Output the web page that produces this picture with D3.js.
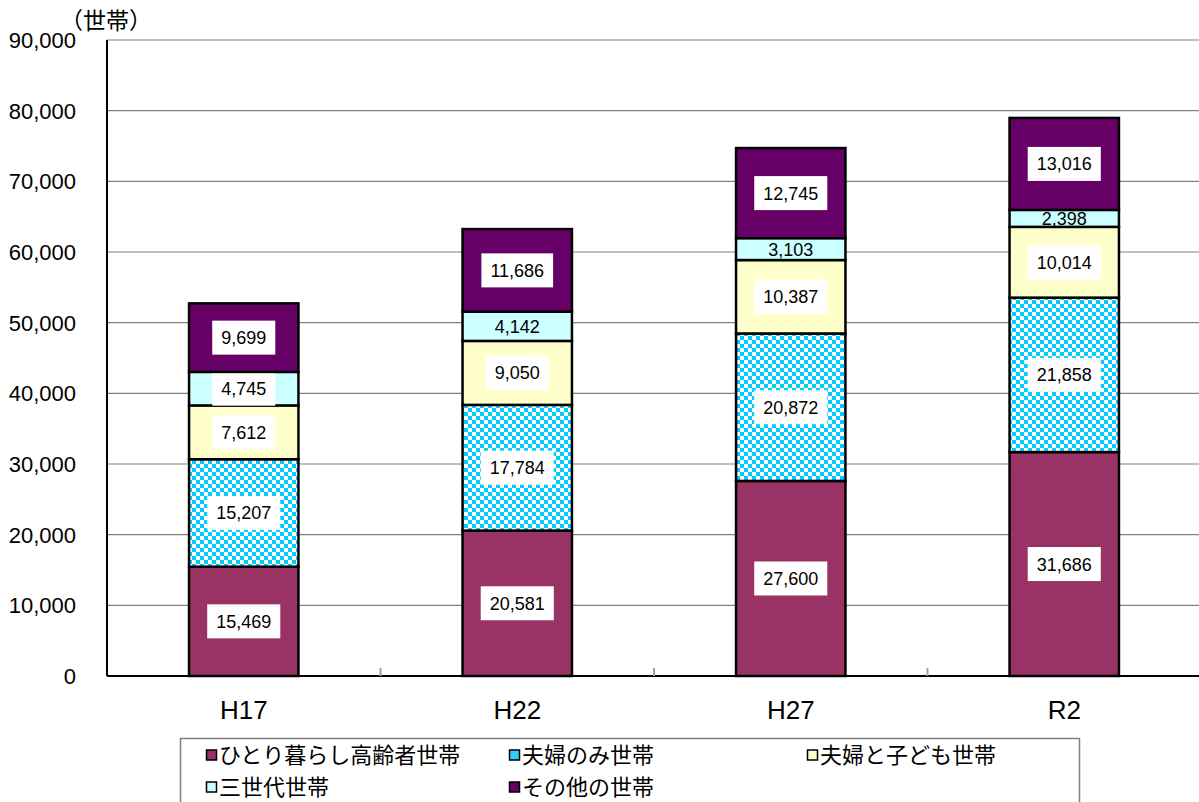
<!DOCTYPE html>
<html>
<head>
<meta charset="utf-8">
<script src="https://cdn.jsdelivr.net/npm/d3@7"></script>
<style>
  body { margin: 0; background: #fff; }
  text { font-family: "Liberation Sans", Arial, "Noto Sans CJK JP", sans-serif; }
</style>
</head>
<body>
<div id="chart"></div>
<script>
// 年次
var years = ["H17", "H22", "H27", "R2"];

// 世帯類型ごとの値
var hitori = [15469, 20581, 27600, 31686];
var fufuOnly = [15207, 17784, 20872, 21858];
var fufuKodomo = [7612, 9050, 10387, 10014];
var sansedai = [4745, 4142, 3103, 2398];
var sonota = [9699, 11686, 12745, 13016];

var seriesNames = ["ひとり暮らし高齢者世帯", "夫婦のみ世帯", "夫婦と子ども世帯", "三世代世帯", "その他の世帯"];
var seriesKeys = ["hitori", "fufuOnly", "fufuKodomo", "sansedai", "sonota"];
var yTicks = [0, 10000, 20000, 30000, 40000, 50000, 60000, 70000, 80000, 90000];

var width = 1199, height = 802;
var margin = { left: 107, right: -2, top: 40, bottom: 126 };

var svg = d3.select("#chart").append("svg")
    .attr("width", width)
    .attr("height", height);

// checker pattern for 夫婦のみ世帯
var defs = svg.append("defs");
var pat = defs.append("pattern")
    .attr("id", "checker")
    .attr("patternUnits", "userSpaceOnUse")
    .attr("width", 8).attr("height", 8);
pat.append("rect").attr("width", 8).attr("height", 8).attr("fill", "#00ccff");
pat.append("rect").attr("x", 0).attr("y", 0).attr("width", 4).attr("height", 4).attr("fill", "#fff");
pat.append("rect").attr("x", 4).attr("y", 4).attr("width", 4).attr("height", 4).attr("fill", "#fff");

var fills = {
    hitori: "#993366",
    fufuOnly: "url(#checker)",
    fufuKodomo: "#ffffcc",
    sansedai: "#ccffff",
    sonota: "#660066"
};
var legendFills = {
    hitori: "#993366",
    fufuOnly: "#33ccff",
    fufuKodomo: "#ffffcc",
    sansedai: "#ccffff",
    sonota: "#660066"
};

var table = years.map(function (y, i) {
    return {
        year: y,
        hitori: hitori[i],
        fufuOnly: fufuOnly[i],
        fufuKodomo: fufuKodomo[i],
        sansedai: sansedai[i],
        sonota: sonota[i]
    };
});

var x = d3.scaleBand()
    .domain(years)
    .range([margin.left, width - margin.right])
    .paddingInner(0.6)
    .paddingOuter(0.3);

var y = d3.scaleLinear()
    .domain([0, 90000])
    .range([height - margin.bottom, margin.top]);

// gridlines
svg.append("g")
    .selectAll("line")
    .data(yTicks.filter(function (d) { return d > 0; }))
    .enter().append("line")
    .attr("x1", margin.left).attr("x2", width)
    .attr("y1", function (d) { return y(d); })
    .attr("y2", function (d) { return y(d); })
    .attr("stroke", "#808080")
    .attr("stroke-width", 1.2);

// y axis labels
svg.append("g")
    .selectAll("text")
    .data(yTicks)
    .enter().append("text")
    .attr("x", 76)
    .attr("y", function (d) { return y(d); })
    .attr("dy", "0.36em")
    .attr("text-anchor", "end")
    .attr("font-size", 22)
    .attr("fill", "#000")
    .text(function (d) { return d3.format(",")(d); });

// unit label
svg.append("text")
    .attr("x", 60).attr("y", 29)
    .attr("font-size", 23)
    .attr("font-family", "Noto Sans CJK JP")
    .text("（世帯）");

// stacked bars
var stack = d3.stack().keys(seriesKeys);
var stacked = stack(table);

var layers = svg.append("g").selectAll("g")
    .data(stacked)
    .enter().append("g");

layers.selectAll("rect")
    .data(function (d) { return d.map(function (v) { return { key: d.key, v: v }; }); })
    .enter().append("rect")
    .attr("x", function (d) { return x(d.v.data.year); })
    .attr("width", x.bandwidth())
    .attr("y", function (d) { return y(d.v[1]); })
    .attr("height", function (d) { return y(d.v[0]) - y(d.v[1]); })
    .attr("fill", function (d) { return fills[d.key]; })
    .attr("stroke", "#000")
    .attr("stroke-width", 2.5);

// value labels
var labels = layers.selectAll("g.lab")
    .data(function (d) { return d.map(function (v) { return { key: d.key, v: v }; }); })
    .enter().append("g")
    .attr("class", "lab")
    .attr("transform", function (d) {
        var cx = x(d.v.data.year) + x.bandwidth() / 2;
        var cy = (y(d.v[0]) + y(d.v[1])) / 2;
        return "translate(" + cx + "," + cy + ")";
    });

labels.each(function (d) {
    var g = d3.select(this);
    var h = y(d.v[0]) - y(d.v[1]);
    var txt = d3.format(",")(d.v[1] - d.v[0]);
    var box = g.append("rect").attr("fill", "#fff");
    var t = g.append("text")
        .attr("text-anchor", "middle")
        .attr("dy", "0.36em")
        .attr("font-size", 18)
        .attr("fill", "#000")
        .text(txt);
    var w = t.node().getComputedTextLength() + 18;
    if (h > 30) {
        box.attr("x", -w / 2).attr("y", -17)
            .attr("width", w).attr("height", 34);
    } else {
        box.remove();
    }
});

// axes lines
svg.append("line")
    .attr("x1", margin.left).attr("x2", margin.left)
    .attr("y1", margin.top).attr("y2", y(0))
    .attr("stroke", "#000").attr("stroke-width", 2);
svg.append("line")
    .attr("x1", margin.left).attr("x2", width)
    .attr("y1", y(0)).attr("y2", y(0))
    .attr("stroke", "#000").attr("stroke-width", 2);

// category separators
var step = x.step();
svg.append("g").selectAll("line")
    .data(years.slice(1))
    .enter().append("line")
    .attr("x1", function (d) { return x(d) - x.paddingInner() * step / 2; })
    .attr("x2", function (d) { return x(d) - x.paddingInner() * step / 2; })
    .attr("y1", y(0)).attr("y2", y(0) - 8)
    .attr("stroke", "#a0a0a0").attr("stroke-width", 2);

// x labels
svg.append("g").selectAll("text")
    .data(years)
    .enter().append("text")
    .attr("x", function (d) { return x(d) + x.bandwidth() / 2; })
    .attr("y", 719)
    .attr("text-anchor", "middle")
    .attr("font-size", 26)
    .text(function (d) { return d; });

// legend
var legend = svg.append("g");
legend.append("rect")
    .attr("x", 180.5).attr("y", 738.5)
    .attr("width", 899).attr("height", 80)
    .attr("fill", "#fff")
    .attr("stroke", "#808080").attr("stroke-width", 1.5);

var legendPos = [
    [207, 755], [510, 755], [808, 755],
    [207, 787], [510, 787]
];

var items = legend.selectAll("g.item")
    .data(seriesKeys)
    .enter().append("g")
    .attr("class", "item")
    .attr("transform", function (d, i) { return "translate(" + legendPos[i][0] + "," + legendPos[i][1] + ")"; });

items.append("rect")
    .attr("x", -0.5).attr("y", -5)
    .attr("width", 10).attr("height", 10)
    .attr("fill", function (d) { return legendFills[d]; })
    .attr("stroke", "#000").attr("stroke-width", 1.5);

items.append("text")
    .attr("x", 12)
    .attr("dy", "0.36em")
    .attr("font-size", 22)
    .attr("font-family", "Noto Sans CJK JP")
    .text(function (d, i) { return seriesNames[i]; });
</script>
</body>
</html>
